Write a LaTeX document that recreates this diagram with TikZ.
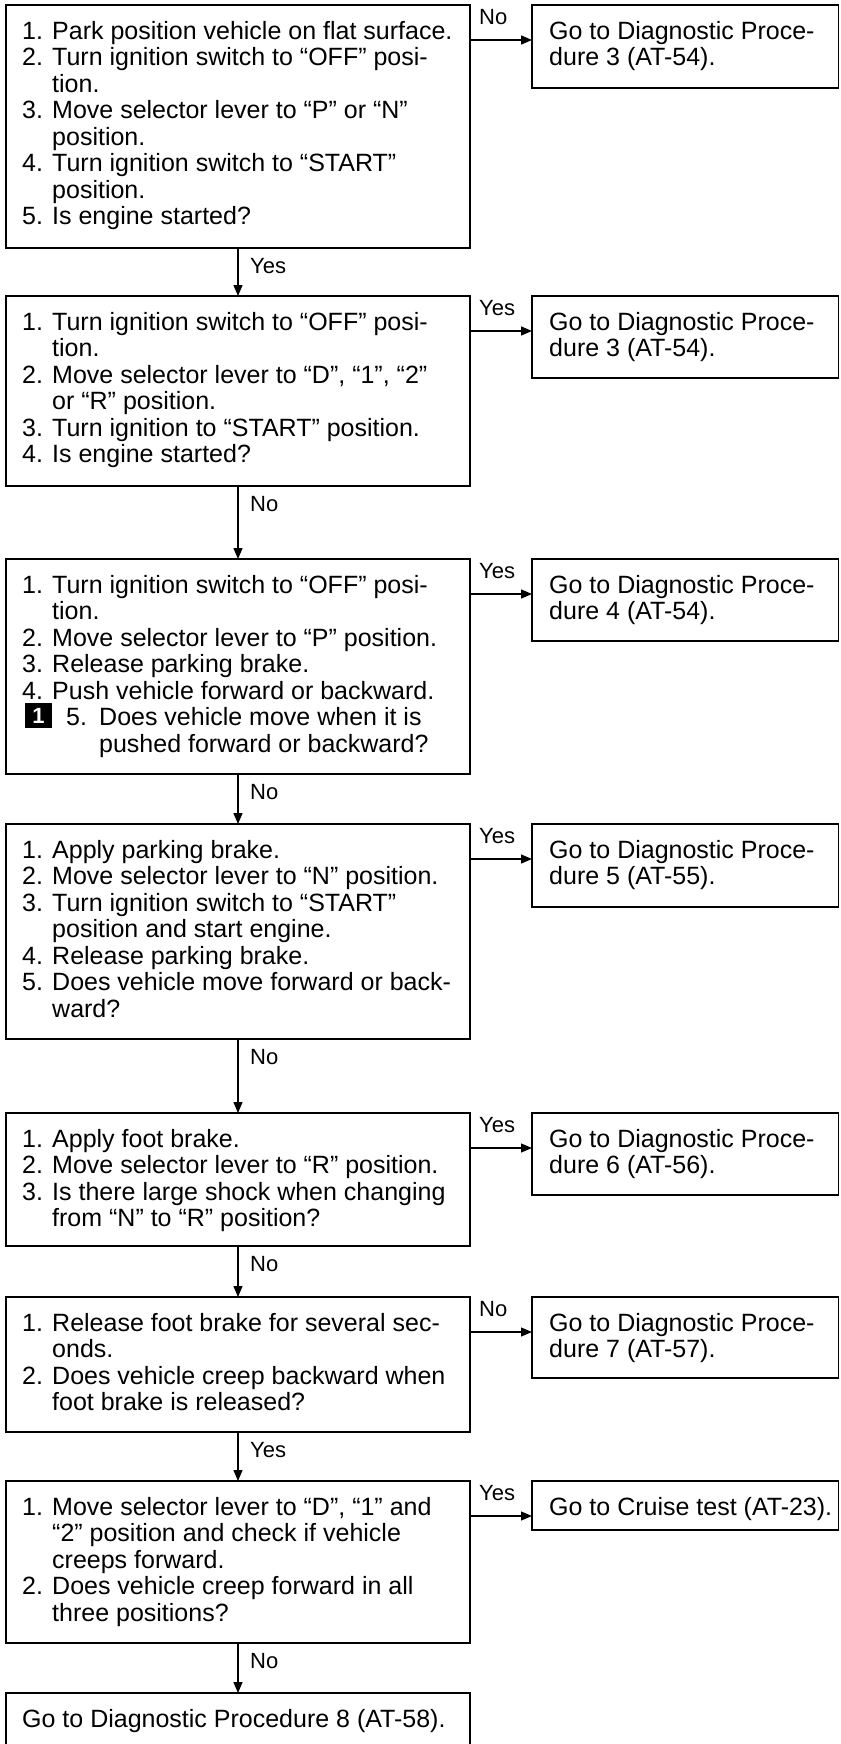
\documentclass[tikz,border=0pt]{standalone}
\usepackage{fontspec}
\setmainfont{Liberation Sans}
\usetikzlibrary{arrows.meta,calc}
\tikzset{
  box/.style={draw, line width=1.6pt, rectangle, inner sep=0pt, outer sep=0pt, anchor=north west},
  mainbox/.style={box, minimum width=464pt},
  sidebox/.style={box, minimum width=306.5pt},
  txt/.style={anchor=north west, inner sep=0pt, align=left, font=\fontsize{25}{26.5}\selectfont},
  lbl/.style={inner sep=0pt, anchor=west, font=\fontsize{22}{24}\selectfont},
  arr/.style={line width=1.3pt, -{Triangle[length=11pt,width=9pt]}},
  blackmark/.style={fill=black, inner sep=0pt, minimum width=27pt, minimum height=25pt, text=white, font=\fontsize{22}{22}\selectfont\bfseries},
}
\newcommand\nm[1]{\makebox[30pt][l]{#1}}
\newcommand\ct{\hspace*{30pt}}
\newcommand\st{\rule{0pt}{20pt}}
\begin{document}
\begin{tikzpicture}[x=1pt,y=-1pt]
\useasboundingbox (0,0) rectangle (840,1744);
\fill[white] (0,0) rectangle (840,1744);

% main boxes
\node[mainbox, minimum height=243pt] (b1) at (6,5) {};
\node[mainbox, minimum height=190pt] (b2) at (6,296) {};
\node[mainbox, minimum height=215pt] (b3) at (6,559) {};
\node[mainbox, minimum height=215pt] (b4) at (6,824) {};
\node[mainbox, minimum height=133pt] (b5) at (6,1113) {};
\node[mainbox, minimum height=135pt] (b6) at (6,1297) {};
\node[mainbox, minimum height=162pt] (b7) at (6,1481) {};
\node[mainbox, minimum height=54pt] (b8) at (6,1693) {};

% side boxes
\node[sidebox, minimum height=83pt] (r1) at (532,5) {};
\node[sidebox, minimum height=82pt] (r2) at (532,296) {};
\node[sidebox, minimum height=82pt] (r3) at (532,559) {};
\node[sidebox, minimum height=83pt] (r4) at (532,824) {};
\node[sidebox, minimum height=82pt] (r5) at (532,1113) {};
\node[sidebox, minimum height=81pt] (r6) at (532,1297) {};
\node[sidebox, minimum height=49pt] (r7) at (532,1481) {};

% texts of main boxes
\node[txt] (t1) at (22,19) {\st\nm{1.}Park position vehicle on flat surface.\\
\nm{2.}Turn ignition switch to “OFF” posi-\\
\ct tion.\\
\nm{3.}Move selector lever to “P” or “N”\\
\ct position.\\
\nm{4.}Turn ignition switch to “START”\\
\ct position.\\
\nm{5.}Is engine started?};

\node[txt] (t2) at (22,310) {\st\nm{1.}Turn ignition switch to “OFF” posi-\\
\ct tion.\\
\nm{2.}Move selector lever to “D”, “1”, “2”\\
\ct or “R” position.\\
\nm{3.}Turn ignition to “START” position.\\
\nm{4.}Is engine started?};

\node[txt] (t3) at (22,573) {\st\nm{1.}Turn ignition switch to “OFF” posi-\\
\ct tion.\\
\nm{2.}Move selector lever to “P” position.\\
\nm{3.}Release parking brake.\\
\nm{4.}Push vehicle forward or backward.\\
\hspace*{44pt}\makebox[33pt][l]{5.}Does vehicle move when it is\\
\hspace*{77pt}pushed forward or backward?};
\node[blackmark] (m1) at (38.5,715.5) {1};

\node[txt] (t4) at (22,838) {\st\nm{1.}Apply parking brake.\\
\nm{2.}Move selector lever to “N” position.\\
\nm{3.}Turn ignition switch to “START”\\
\ct position and start engine.\\
\nm{4.}Release parking brake.\\
\nm{5.}Does vehicle move forward or back-\\
\ct ward?};

\node[txt] (t5) at (22,1127) {\st\nm{1.}Apply foot brake.\\
\nm{2.}Move selector lever to “R” position.\\
\nm{3.}Is there large shock when changing\\
\ct from “N” to “R” position?};

\node[txt] (t6) at (22,1311) {\st\nm{1.}Release foot brake for several sec-\\
\ct onds.\\
\nm{2.}Does vehicle creep backward when\\
\ct foot brake is released?};

\node[txt] (t7) at (22,1495) {\st\nm{1.}Move selector lever to “D”, “1” and\\
\ct “2” position and check if vehicle\\
\ct creeps forward.\\
\nm{2.}Does vehicle creep forward in all\\
\ct three positions?};

\node[txt] (t8) at (22,1707) {\st Go to Diagnostic Procedure 8 (AT-58).};

% texts of side boxes
\node[txt] (s1) at (549,19) {\st Go to Diagnostic Proce-\\dure 3 (AT-54).};
\node[txt] (s2) at (549,310) {\st Go to Diagnostic Proce-\\dure 3 (AT-54).};
\node[txt] (s3) at (549,573) {\st Go to Diagnostic Proce-\\dure 4 (AT-54).};
\node[txt] (s4) at (549,838) {\st Go to Diagnostic Proce-\\dure 5 (AT-55).};
\node[txt] (s5) at (549,1127) {\st Go to Diagnostic Proce-\\dure 6 (AT-56).};
\node[txt] (s6) at (549,1311) {\st Go to Diagnostic Proce-\\dure 7 (AT-57).};
\node[txt] (s7) at (549,1495) {\st Go to Cruise test (AT-23).};

% horizontal connectors
\foreach \i in {1,...,7}{
  \coordinate (h\i) at ([yshift=-35pt]r\i.north west);
  \draw[arr] (b\i.east |- h\i) -- (h\i);
}
% vertical connectors
\draw[arr] (b1.south) -- (b2.north);
\draw[arr] (b2.south) -- (b3.north);
\draw[arr] (b3.south) -- (b4.north);
\draw[arr] (b4.south) -- (b5.north);
\draw[arr] (b5.south) -- (b6.north);
\draw[arr] (b6.south) -- (b7.north);
\draw[arr] (b7.south) -- (b8.north);

% labels of horizontal connectors
\node[lbl] (lh1) at (479,17) {No};
\node[lbl] (lh2) at (479,308) {Yes};
\node[lbl] (lh3) at (479,571) {Yes};
\node[lbl] (lh4) at (479,836) {Yes};
\node[lbl] (lh5) at (479,1125) {Yes};
\node[lbl] (lh6) at (479,1309) {No};
\node[lbl] (lh7) at (479,1493) {Yes};

% labels of vertical connectors
\node[lbl] (lv1) at (250,266) {Yes};
\node[lbl] (lv2) at (250,504) {No};
\node[lbl] (lv3) at (250,792) {No};
\node[lbl] (lv4) at (250,1057) {No};
\node[lbl] (lv5) at (250,1264) {No};
\node[lbl] (lv6) at (250,1450) {Yes};
\node[lbl] (lv7) at (250,1661) {No};
\end{tikzpicture}
\end{document}
